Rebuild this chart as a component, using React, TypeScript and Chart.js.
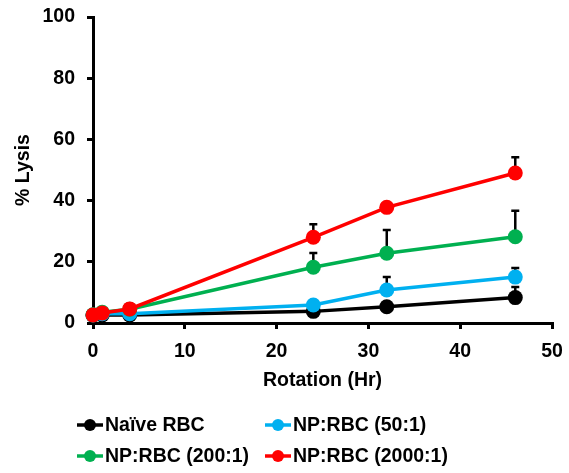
import React, { useEffect, useRef } from "react";
import { Chart, registerables } from "chart.js";

Chart.register(...registerables);

const hours = [0, 1, 4, 24, 32, 46];
const seriesNames = ["Naïve RBC", "NP:RBC (50:1)", "NP:RBC (200:1)", "NP:RBC (2000:1)"];
const seriesColors = ["#000000", "#00b0f0", "#00b050", "#ff0000"];
const naive = [2.5, 2.6, 2.6, 3.8, 5.3, 8.3];
const np50 = [2.6, 3.0, 3.0, 5.9, 10.8, 15.0];
const np200 = [2.7, 3.5, 4.5, 18.2, 22.8, 28.2];
const np2000 = [2.6, 3.3, 4.6, 28.0, 37.8, 49.0];
const naiveErr = [0, 0, 0, 0, 0, 3.5];
const np50Err = [0, 0, 0, 1.5, 4.2, 3.0];
const np200Err = [0, 0, 0, 4.7, 7.6, 8.5];
const np2000Err = [0, 0, 0, 4.3, 0, 5.2];
const xTicks = [0, 10, 20, 30, 40, 50];
const yTicks = [0, 20, 40, 60, 80, 100];

const seriesValues = [naive, np50, np200, np2000];
const seriesErrs = [naiveErr, np50Err, np200Err, np2000Err];

const FONT = "'Liberation Sans', Arial, sans-serif";
const FS = 19.5;

const errorBarPlugin = {
  id: "errorBars",
  beforeDatasetsDraw(chart: any) {
    const ctx = chart.ctx;
    const yScale = chart.scales.y;
    ctx.save();
    ctx.strokeStyle = "#000";
    ctx.lineWidth = 2.5;
    chart.data.datasets.forEach((ds: any, di: number) => {
      const meta = chart.getDatasetMeta(di);
      const errs = ds.errors as number[];
      meta.data.forEach((pt: any, i: number) => {
        const e = errs[i];
        if (!e) return;
        const v = (ds.data[i] as any).y;
        const yTop = yScale.getPixelForValue(v + e);
        ctx.beginPath();
        ctx.moveTo(pt.x, pt.y);
        ctx.lineTo(pt.x, yTop);
        ctx.moveTo(pt.x - 4, yTop);
        ctx.lineTo(pt.x + 4, yTop);
        ctx.stroke();
      });
    });
    ctx.restore();
  },
};

const legendPlugin = {
  id: "gridLegend",
  afterDraw(chart: any) {
    const ctx = chart.ctx;
    const cols = [77, 265];
    const rows = [425, 456];
    ctx.save();
    ctx.font = `bold ${FS}px ${FONT}`;
    ctx.textBaseline = "middle";
    seriesNames.forEach((name, i) => {
      const x = cols[i % 2];
      const y = rows[Math.floor(i / 2)];
      ctx.strokeStyle = seriesColors[i];
      ctx.lineWidth = 3.5;
      ctx.beginPath();
      ctx.moveTo(x, y);
      ctx.lineTo(x + 26, y);
      ctx.stroke();
      ctx.fillStyle = seriesColors[i];
      ctx.beginPath();
      ctx.arc(x + 13, y, 6, 0, Math.PI * 2);
      ctx.fill();
      ctx.fillStyle = "#000";
      ctx.fillText(name, x + 28, y + 1);
    });
    ctx.restore();
  },
};

const zeroPadding = (s: any) => {
  s.paddingTop = 0;
  s.paddingBottom = 0;
  s.paddingLeft = 0;
  s.paddingRight = 0;
};

export default function App() {
  const ref = useRef<HTMLCanvasElement | null>(null);
  useEffect(() => {
    document.body.style.margin = "0";
    const canvas = ref.current!;
    const datasets = seriesNames.map((name, i) => ({
      label: name,
      data: hours.map((h, j) => ({ x: h, y: seriesValues[i][j] })),
      errors: seriesErrs[i],
      borderColor: seriesColors[i],
      backgroundColor: seriesColors[i],
      pointBackgroundColor: seriesColors[i],
      pointBorderColor: seriesColors[i],
      borderWidth: 3.5,
      pointRadius: 7.5,
      pointBorderWidth: 0,
      order: 4 - i,
      tension: 0,
      clip: false,
    }));
    const chart = new Chart(canvas, {
      type: "line",
      data: { datasets } as any,
      options: {
        responsive: false,
        animation: false,
        layout: { padding: { top: 17, right: 17, bottom: 75, left: 0 } },
        plugins: { legend: { display: false }, tooltip: { enabled: false } },
        scales: {
          x: {
            type: "linear",
            min: 0,
            max: 50,
            afterBuildTicks: (s: any) => {
              s.ticks = xTicks.map((v) => ({ value: v }));
            },
            afterFit: (s: any) => {
              s.height = 75;
              zeroPadding(s);
            },
            ticks: { color: "#000", font: { family: FONT, size: FS, weight: "bold" }, padding: 11 },
            grid: { drawOnChartArea: false, drawTicks: true, tickLength: 6, color: "#000", lineWidth: 3 },
            border: { display: true, color: "#000", width: 3 },
            title: {
              display: true,
              text: "Rotation (Hr)",
              color: "#000",
              font: { family: FONT, size: FS, weight: "bold" },
              padding: { top: 6, bottom: 6 },
            },
          },
          y: {
            min: 0,
            max: 100,
            afterBuildTicks: (s: any) => {
              s.ticks = yTicks.map((v) => ({ value: v }));
            },
            afterFit: (s: any) => {
              s.width = 93;
              zeroPadding(s);
            },
            ticks: { color: "#000", font: { family: FONT, size: FS, weight: "bold" }, padding: 12 },
            grid: { drawOnChartArea: false, drawTicks: true, tickLength: 6, color: "#000", lineWidth: 3 },
            border: { display: true, color: "#000", width: 3 },
            title: {
              display: true,
              text: "% Lysis",
              color: "#000",
              font: { family: FONT, size: FS, weight: "bold" },
              padding: { top: 12, bottom: 0 },
            },
          },
        },
      },
      plugins: [errorBarPlugin, legendPlugin],
    } as any);
    return () => chart.destroy();
  }, []);
  return (
    <div style={{ width: 569, height: 473 }}>
      <canvas ref={ref} width={569} height={473} style={{ width: 569, height: 473, display: "block" }} />
    </div>
  );
}
